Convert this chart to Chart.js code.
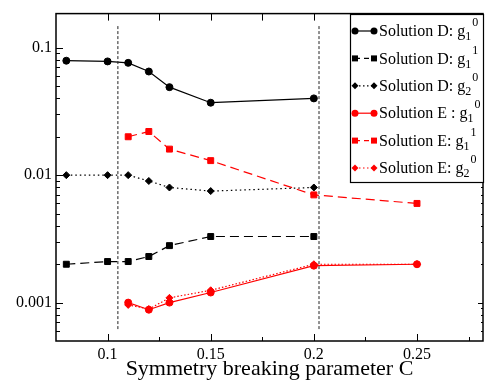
<!DOCTYPE html>
<html>
<head>
<meta charset="utf-8">
<script src="https://cdn.jsdelivr.net/npm/chart.js@4/dist/chart.umd.min.js"></script>
<style>html,body{margin:0;padding:0;background:#fff}</style>
</head>
<body>
<canvas id="c" width="485" height="382"></canvas>
<script>
// symmetry breaking parameter C for each solution
const cD = [0.08, 0.1, 0.11, 0.12, 0.13, 0.15, 0.2];
const cE = [0.11, 0.12, 0.13, 0.15, 0.2, 0.25];

// values
const dG10 = [0.079, 0.078, 0.076, 0.065, 0.049, 0.037, 0.040];
const dG11 = [0.0020, 0.0021, 0.0021, 0.0023, 0.0028, 0.0033, 0.0033];
const dG20 = [0.010, 0.010, 0.010, 0.009, 0.008, 0.0075, 0.008];
const eG10 = [0.0010, 0.00088, 0.0010, 0.0012, 0.00195, 0.0020];
const eG11 = [0.020, 0.022, 0.016, 0.013, 0.0070, 0.0060];
const eG20 = [0.00096, 0.00089, 0.00109, 0.00125, 0.0020, 0.0020];

// dashed vertical markers
const vLines = [0.105, 0.2025];
const vSpan = [0.00062, 0.15];

const xTicks = [0.1, 0.15, 0.2, 0.25];
const yTicks = [0.001, 0.01, 0.1];

const legendNames = ['Solution D: g', 'Solution D: g', 'Solution D: g', 'Solution E : g', 'Solution E: g', 'Solution E: g'];
const legendSubs = ['1', '1', '2', '1', '1', '2'];
const legendSups = ['0', '1', '0', '0', '1', '0'];

const SERIF = "'Liberation Serif', 'DejaVu Serif', serif";
const RED = '#ff0000';

const pts = (xs, ys) => xs.map((x, i) => ({ x: x, y: ys[i] }));

const series = [
    { data: pts(cD, dG10), color: '#000', dash: [], style: 'circle' },
    { data: pts(cD, dG11), color: '#000', dash: [9, 5], style: 'rect' },
    { data: pts(cD, dG20), color: '#000', dash: [1.5, 3], style: 'rectRot' },
    { data: pts(cE, eG10), color: RED, dash: [], style: 'circle' },
    { data: pts(cE, eG11), color: RED, dash: [9, 5], style: 'rect' },
    { data: pts(cE, eG20), color: RED, dash: [1.5, 2], style: 'rectRot' }
];

const radiusFor = s => s === 'rect' ? 4.2 : 3.5;

const datasets = vLines.map(x => ({
    data: [{ x: x, y: vSpan[0] }, { x: x, y: vSpan[1] }],
    borderColor: '#222',
    borderWidth: 1,
    borderDash: [3, 2],
    pointRadius: 0
})).concat(series.map(s => ({
    data: s.data,
    borderColor: s.color,
    backgroundColor: s.color,
    borderWidth: 1.2,
    borderDash: s.dash,
    pointStyle: s.style,
    pointRadius: radiusFor(s.style),
    pointBorderWidth: 1,
    tension: 0
})));

function drawMarker(ctx, style, x, y, color) {
    ctx.save();
    ctx.fillStyle = color;
    ctx.beginPath();
    if (style === 'circle') {
        ctx.arc(x, y, 3.5, 0, Math.PI * 2);
    } else if (style === 'rect') {
        ctx.rect(x - 3, y - 3, 6, 6);
    } else {
        ctx.moveTo(x - 3.5, y);
        ctx.lineTo(x, y - 3.5);
        ctx.lineTo(x + 3.5, y);
        ctx.lineTo(x, y + 3.5);
        ctx.closePath();
    }
    ctx.fill();
    ctx.restore();
}

const framePlugin = {
    id: 'frame',
    afterDraw(chart) {
        const ctx = chart.ctx;
        const a = chart.chartArea;
        const xs = chart.scales.x, ys = chart.scales.y;
        ctx.save();
        ctx.strokeStyle = '#000';
        ctx.lineWidth = 1.5;
        ctx.strokeRect(a.left, a.top, a.right - a.left, a.bottom - a.top);

        ctx.lineWidth = 1;
        ctx.beginPath();
        // x ticks every 0.025, majors labelled
        for (let v = 0.075; v <= xs.max + 1e-9; v += 0.025) {
            const px = Math.round(xs.getPixelForValue(v)) + 0.5;
            if (px <= a.left + 1 || px >= a.right - 1) continue;
            const major = xTicks.some(t => Math.abs(t - v) < 1e-6);
            ctx.moveTo(px, a.bottom);
            ctx.lineTo(px, a.bottom - (major ? 7 : 4));
            ctx.moveTo(px, a.top);
            ctx.lineTo(px, a.top + 7);
        }
        // log y ticks
        for (let d = -4; d <= -1; d++) {
            for (let k = 1; k <= 9; k++) {
                const v = k * Math.pow(10, d);
                if (v <= ys.min || v >= ys.max) continue;
                const py = Math.round(ys.getPixelForValue(v)) + 0.5;
                const major = k === 1;
                ctx.moveTo(a.left, py);
                ctx.lineTo(a.left + (major ? 7 : 4), py);
                ctx.moveTo(a.right, py);
                ctx.lineTo(a.right - (major ? 5 : 2), py);
            }
        }
        ctx.stroke();

        // legend box
        const bx = 350, by = 14, bw = 134, bh = 169;
        ctx.fillStyle = '#fff';
        ctx.fillRect(bx, by, bw, bh);
        ctx.strokeStyle = '#000';
        ctx.lineWidth = 1.2;
        ctx.strokeRect(bx + 0.5, by + 0.5, bw - 1, bh - 1);

        series.forEach((s, i) => {
            const cy = 31 + i * 27.4;
            ctx.strokeStyle = s.color;
            ctx.lineWidth = 1.2;
            ctx.setLineDash(s.dash.length ? (s.dash[0] > 5 ? [5, 4] : [1.5, 2.5]) : []);
            ctx.beginPath();
            ctx.moveTo(355, cy);
            ctx.lineTo(374, cy);
            ctx.stroke();
            ctx.setLineDash([]);
            drawMarker(ctx, s.style, 355, cy, s.color);
            drawMarker(ctx, s.style, 374, cy, s.color);

            ctx.fillStyle = '#000';
            ctx.textBaseline = 'middle';
            ctx.textAlign = 'left';
            ctx.font = '16px ' + SERIF;
            const name = legendNames[i];
            ctx.fillText(name, 379, cy + 1);
            const w = ctx.measureText(name).width;
            ctx.font = '12px ' + SERIF;
            ctx.fillText(legendSubs[i], 379 + w, cy + 6);
            const ws = ctx.measureText(legendSubs[i]).width;
            ctx.fillText(legendSups[i], 379 + w + ws + 1, cy - 8);
        });
        ctx.restore();
    }
};

new Chart(document.getElementById('c').getContext('2d'), {
    type: 'line',
    data: { datasets: datasets },
    options: {
        responsive: false,
        animation: false,
        devicePixelRatio: 1,
        layout: { autoPadding: false, padding: { top: 12, right: 2, left: 0, bottom: 0 } },
        plugins: {
            legend: { display: false },
            tooltip: { enabled: false }
        },
        scales: {
            x: {
                type: 'linear',
                min: 0.075,
                max: 0.282,
                grid: { display: false, drawTicks: false },
                border: { display: false },
                afterBuildTicks: s => { s.ticks = xTicks.map(v => ({ value: v })); },
                afterFit: s => { s.height = 41; },
                ticks: {
                    color: '#000',
                    font: { family: SERIF, size: 16 },
                    padding: 4,
                    maxRotation: 0,
                    autoSkip: false,
                    callback: v => String(v)
                },
                title: {
                    display: true,
                    text: 'Symmetry breaking parameter C',
                    color: '#000',
                    font: { family: SERIF, size: 22 },
                    padding: { top: 0, bottom: 0 }
                }
            },
            y: {
                type: 'logarithmic',
                min: 0.0005,
                max: 0.185,
                grid: { display: false, drawTicks: false },
                border: { display: false },
                afterBuildTicks: s => { s.ticks = yTicks.map(v => ({ value: v })); },
                afterFit: s => { s.width = 56; },
                ticks: {
                    color: '#000',
                    font: { family: SERIF, size: 16 },
                    padding: 4,
                    autoSkip: false,
                    callback: v => String(v)
                }
            }
        }
    },
    plugins: [framePlugin]
});
</script>
</body>
</html>
